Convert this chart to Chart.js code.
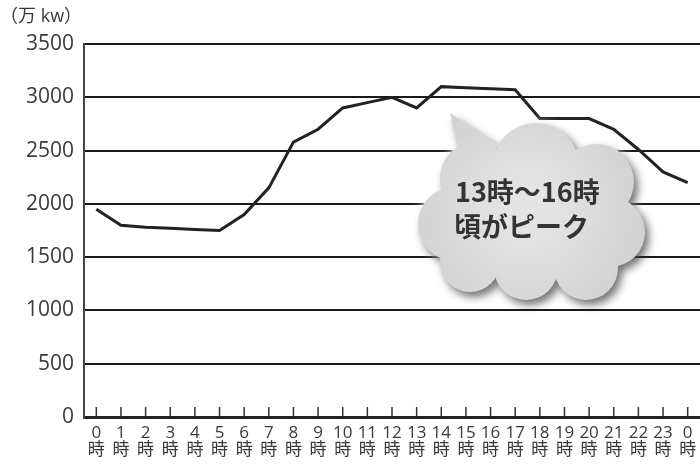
<!DOCTYPE html>
<html>
<head>
<meta charset="utf-8">
<script src="https://cdn.jsdelivr.net/npm/chart.js@4.4.1/dist/chart.umd.min.js"></script>
<style>
  html, body { margin: 0; padding: 0; background: #fff; }
  #wrap { width: 700px; height: 464px; position: relative; }
</style>
</head>
<body>
<div id="wrap"><canvas id="myChart" width="700" height="464"></canvas></div>
<script>
// hours of the day (last one is the next midnight)
const hours = ["0", "1", "2", "3", "4", "5", "6", "7", "8", "9", "10", "11",
  "12", "13", "14", "15", "16", "17", "18", "19", "20", "21", "22", "23", "0"];
// power demand, 万kW
const demand = [1950, 1800, 1780, 1770, 1760, 1750, 1900, 2150, 2580, 2700, 2900, 2950,
  3000, 2900, 3100, 3090, 3080, 3070, 2800, 2800, 2800, 2700, 2510, 2300, 2200];
const yTicks = [0, 500, 1000, 1500, 2000, 2500, 3000, 3500];
const unitLabel = "（万 kw）";
const calloutLines = ["13時～16時", "頃がピーク"];

const textColor = "#3a3a3a";

// small tick marks standing up from the x axis + unit label
const extrasPlugin = {
  id: "extras",
  afterDraw(chart) {
    const ctx = chart.ctx;
    const x = chart.scales.x;
    const bottom = chart.chartArea.bottom;
    ctx.save();
    ctx.strokeStyle = "#333";
    ctx.lineWidth = 1.5;
    for (let i = 0; i < hours.length; i++) {
      const px = x.getPixelForValue(i);
      ctx.beginPath();
      ctx.moveTo(px, bottom - 10);
      ctx.lineTo(px, bottom);
      ctx.stroke();
    }
    ctx.fillStyle = textColor;
    ctx.font = "18px 'Open Sans', 'Noto Sans CJK JP'";
    ctx.textBaseline = "middle";
    ctx.textAlign = "left";
    ctx.fillText(unitLabel, 0, 17);
    ctx.restore();
  }
};

// cloud shaped callout
const cloudPlugin = {
  id: "cloud",
  afterDatasetsDraw(chart) {
    const ctx = chart.ctx;
    const lobes = [
      [476, 178, 36], [536, 166, 43], [596, 182, 38], [610, 232, 35],
      [586, 268, 32], [526, 268, 32], [470, 262, 30], [455, 224, 37], [532, 220, 62]
    ];
    const cloudPath = () => {
      ctx.beginPath();
      lobes.forEach(([cx, cy, r]) => {
        ctx.moveTo(cx + r, cy);
        ctx.arc(cx, cy, r, 0, Math.PI * 2);
      });
      ctx.moveTo(450, 113);
      ctx.lineTo(500, 146);
      ctx.lineTo(462, 165);
      ctx.closePath();
    };
    ctx.save();
    // white halo
    ctx.shadowColor = "rgba(255,255,255,1)";
    ctx.shadowBlur = 10;
    ctx.fillStyle = "#fff";
    cloudPath();
    ctx.fill();
    // drop shadow
    ctx.shadowColor = "rgba(0,0,0,0.55)";
    ctx.shadowBlur = 8;
    ctx.shadowOffsetX = 4;
    ctx.shadowOffsetY = 5;
    const g = ctx.createRadialGradient(525, 205, 20, 530, 215, 130);
    g.addColorStop(0, "#e4e4e4");
    g.addColorStop(1, "#d0d0d0");
    ctx.fillStyle = g;
    cloudPath();
    ctx.fill();
    ctx.restore();

    ctx.save();
    ctx.fillStyle = "#333";
    ctx.font = "bold 27px 'Noto Sans CJK JP'";
    ctx.textBaseline = "middle";
    ctx.textAlign = "left";
    ctx.fillText(calloutLines[0], 455, 192);
    ctx.fillText(calloutLines[1], 454, 227);
    ctx.restore();
  }
};

const config = {
  type: "line",
  data: {
    labels: hours.map((h) => [h, "時"]),
    datasets: [
      {
        data: demand,
        borderColor: "#222",
        borderWidth: 3,
        pointRadius: 0,
        tension: 0,
        fill: false,
      },
    ],
  },
  options: {
    responsive: false,
    animation: false,
    layout: { padding: { top: 44, right: 0, left: 0, bottom: 0 } },
    plugins: { legend: { display: false }, tooltip: { enabled: false } },
    scales: {
      x: {
        type: "category",
        offset: true,
        grid: { display: false },
        border: { display: true, color: "#222", width: 3 },
        ticks: {
          autoSkip: false,
          maxRotation: 0,
          padding: 0,
          color: textColor,
          font: { family: "'Open Sans', 'Noto Sans CJK JP'", size: 17, lineHeight: 1.0 },
        },
        afterFit: (scale) => { scale.height = 47; },
      },
      y: {
        min: 0,
        max: 3500,
        afterBuildTicks: (scale) => { scale.ticks = yTicks.map((v) => ({ value: v })); },
        grid: {
          drawTicks: false,
          color: "#1a1a1a",
          lineWidth: (c) => (c.tick && c.tick.value === 0 ? 3 : 2),
        },
        border: { display: true, color: "#444", width: 2 },
        ticks: {
          padding: 10,
          color: textColor,
          font: { family: "'Open Sans'", size: 21 },
          callback: (v) => String(v),
        },
        afterFit: (scale) => { scale.width = 84; },
      },
    },
  },
  plugins: [cloudPlugin, extrasPlugin],
};

const myChart = new Chart(document.getElementById("myChart"), config);
</script>
</body>
</html>
